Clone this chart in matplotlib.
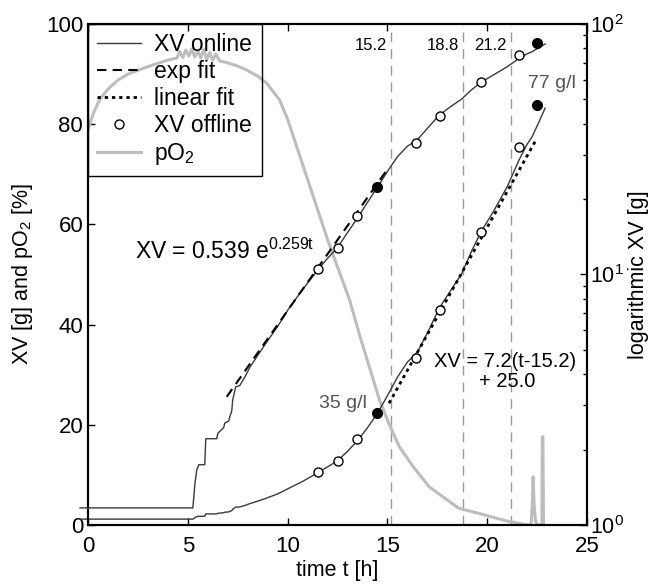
import matplotlib
matplotlib.use('Agg')
import matplotlib.pyplot as plt
from matplotlib.lines import Line2D

plt.rcParams['font.family'] = ['Liberation Sans', 'DejaVu Sans']
plt.rcParams['mathtext.fontset'] = 'custom'
plt.rcParams['mathtext.rm'] = 'Liberation Sans'
plt.rcParams['mathtext.it'] = 'Liberation Sans:italic'
plt.rcParams['mathtext.bf'] = 'Liberation Sans:bold'
plt.rcParams['mathtext.sf'] = 'Liberation Sans'

# ---------------- data ----------------
# XV online (g)
t_online = [-0.4, 5.25, 5.3, 5.35, 5.45, 5.55, 5.85, 5.9, 6.45, 6.5, 6.8, 6.85, 7.05, 7.1,
            7.2, 7.25, 7.4, 7.6, 7.9, 8.1, 8.5, 8.9, 9.5, 10.1, 10.8, 11.5, 12.0, 12.5,
            13.0, 13.5, 14.0, 14.5, 15.0, 15.5, 16.0, 16.5, 17.0, 17.6, 18.2, 18.7, 19.2,
            19.7, 20.3, 21.0, 21.6, 22.0, 22.25, 22.4, 22.6, 22.9]
xv_online = [1.17, 1.17, 1.29, 1.45, 1.66, 1.74, 1.74, 2.21, 2.21, 2.32, 2.45, 2.55, 2.6, 2.70,
             2.85, 3.16, 3.56, 3.6, 3.95, 4.25, 4.75, 5.3, 6.2, 7.4, 8.8, 10.4, 11.6, 12.8,
             14.7, 16.8, 19.4, 22.3, 25.8, 29.5, 32.5, 34.5, 38.3, 43.3, 47.0, 50.0, 54.5,
             58.6, 62.5, 67.5, 72.9, 76.0, 77.5, 78.8, 80.5, 83.2]

# XV offline samples (g)
t_offline = [11.5, 12.5, 13.5, 14.5, 16.45, 17.63, 19.67, 21.57, 22.48]
xv_offline = [10.5, 12.8, 17.1, 22.3, 33.4, 42.9, 58.4, 75.5, 83.8]
filled_idx = [3, 8]

# fits
exp_fit_t = [6.95, 15.0]
exp_fit_xv = [3.25, 26.3]
lin_fit_t = [15.08, 22.45]
lin_fit_xv = [24.3, 76.9]

# pO2 (%)
t_po2 = [0, 0.3, 0.6, 1.0, 1.5, 2.0, 3.0, 4.0, 4.45, 4.6, 4.75, 4.9, 5.05, 5.2, 5.35, 5.5,
         5.65, 5.8, 5.95, 6.1, 6.25, 6.4, 6.6, 6.95, 7.5, 7.95, 8.5, 8.95, 9.6, 10.0, 10.5,
         11.0, 11.5, 12.0, 12.5, 13.1, 13.6, 14.1, 14.6, 15.1, 15.6, 16.3, 17.1, 18.0,
         18.55, 18.8, 19.6, 20.5, 21.1, 21.9, 22.2, 22.26, 22.3, 22.35, 22.42, 22.5, 22.74,
         22.76, 22.79, 22.82]
po2 = [79, 82.5, 85, 87, 88.8, 90, 91.5, 92.8, 93.2, 94.5, 93.3, 94.8, 93.6, 95.0, 93.4, 94.6,
       93.2, 94.9, 93.0, 94.3, 92.8, 94.0, 92.6, 92.3, 91.6, 90.8, 89.6, 88.2, 84.8, 81, 75,
       69, 63, 57, 51.5, 45, 38, 31.5, 25, 20, 15.6, 11.6, 7.6, 5.0,
       3.4, 3.1, 2.3, 1.3, 0.7, 0.1, 0.0, 4.0, 9.6, 4.0, 0.8, 0.0, 0.0,
       17.6, 17.6, 0.0]

# phase markers
vlines_t = [15.2, 18.8, 21.2]
vlines_lbl = ['15.2', '18.8', '21.2']

# ---------------- plot ----------------
fig = plt.figure(figsize=(6.51, 5.85), dpi=100)
ax = fig.add_axes([0.1352, 0.1026, 0.7665, 0.8564])
ax2 = ax.twinx()

online_c = '#3a3a3a'
po2_c = '#bdbdbd'

# linear axis
ax.plot(t_po2, po2, color=po2_c, lw=2.2, zorder=2)
for tv, lb in zip(vlines_t, vlines_lbl):
    ax.axvline(tv, color='#999999', lw=1, dashes=(7, 5), zorder=1)
    ax.text(tv - 0.22, 94.8, lb, ha='right', va='baseline', fontsize=12)
ax.plot(t_online, xv_online, color=online_c, lw=1, zorder=3, clip_on=False)
ax.plot(lin_fit_t, lin_fit_xv, color='black', lw=2, dashes=(1.2, 1.4), zorder=4)
open_t = [t for i, t in enumerate(t_offline) if i not in filled_idx]
open_x = [x for i, x in enumerate(xv_offline) if i not in filled_idx]
fill_t = [t_offline[i] for i in filled_idx]
fill_x = [xv_offline[i] for i in filled_idx]
ax.plot(open_t, open_x, 'o', mfc='white', mec='black', mew=1, ms=6.5, zorder=5)
ax.plot(fill_t, fill_x, 'o', mfc='black', mec='black', ms=7, zorder=5)

ax.set_xlim(0, 25)
ax.set_ylim(0, 100)
ax.set_xticks([0, 5, 10, 15, 20, 25])
ax.set_yticks([0, 20, 40, 60, 80, 100])
ax.tick_params(direction='in', top=True, right=False, labelsize=16, length=5, width=1)
ax.tick_params(axis='x', pad=8)
ax.set_xlabel('time t [h]', fontsize=15.5, labelpad=2)
ax.set_ylabel('XV [g] and pO$_2$ [%]', fontsize=15.5, labelpad=8)

# log axis
ax2.set_yscale('log')
ax2.set_ylim(1, 100)
ax2.plot(t_online, xv_online, color=online_c, lw=1, zorder=3, clip_on=False)
ax2.plot(exp_fit_t, exp_fit_xv, color='black', lw=1.5, dashes=(4.5, 3), zorder=4)
ax2.plot(open_t, open_x, 'o', mfc='white', mec='black', mew=1, ms=6.5, zorder=5)
ax2.plot(fill_t, fill_x, 'o', mfc='black', mec='black', ms=7, zorder=5)
ax2.tick_params(which='both', direction='in', labelsize=15.5, width=1, pad=2)
ax2.tick_params(which='major', length=5)
ax2.tick_params(which='minor', length=3)
ax2.set_ylabel('logarithmic XV [g]', fontsize=15.5, labelpad=3)

for a in (ax, ax2):
    for s in a.spines.values():
        s.set_linewidth(1.5)

# annotations
ax.text(2.35, 53.2, r'XV = 0.539 e$^{\mathregular{0.259t}}$', fontsize=16.5, va='baseline', ha='left')
ax.text(20.87, 31.6, 'XV = 7.2(t-15.2)', fontsize=14.5, va='baseline', ha='center')
ax.text(21.0, 27.6, '+ 25.0', fontsize=14.5, va='baseline', ha='center')
ax.text(13.98, 23.4, '35 g/l', fontsize=14, va='baseline', ha='right', color='#555555')
ax.text(22.04, 87.2, '77 g/l', fontsize=14, va='baseline', ha='left', color='#555555')

handles = [
    Line2D([], [], color=online_c, lw=1),
    Line2D([], [], color='black', lw=1.5, dashes=(4.5, 3)),
    Line2D([], [], color='black', lw=2, dashes=(1.2, 1.4)),
    Line2D([], [], ls='none', marker='o', mfc='white', mec='black', ms=6.5),
    Line2D([], [], color=po2_c, lw=2.2),
]
labels = ['XV online', 'exp fit', 'linear fit', 'XV offline', 'pO$_2$']
leg = ax2.legend(handles, labels, loc='upper left', borderaxespad=0, fontsize=16.5,
                 handlelength=1.9, handletextpad=0.6, labelspacing=0.17, borderpad=0.4,
                 fancybox=False, framealpha=1)
leg.get_frame().set_facecolor('none')
leg.get_frame().set_edgecolor('black')
leg.get_frame().set_linewidth(1)

fig.savefig('out.png', dpi=100)
